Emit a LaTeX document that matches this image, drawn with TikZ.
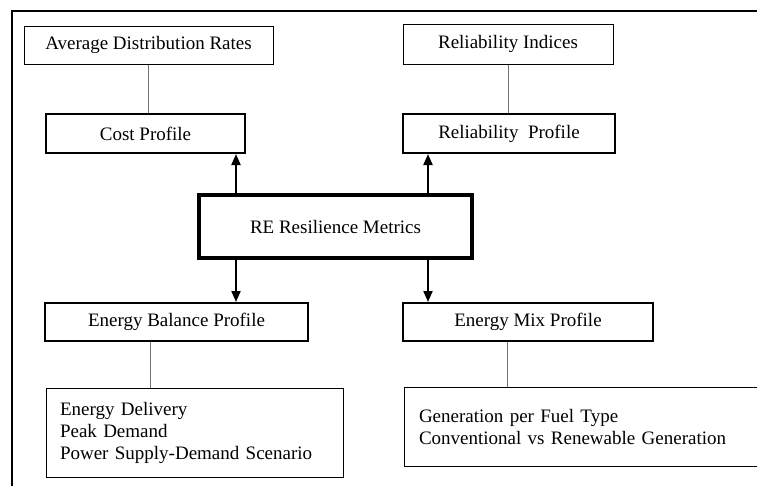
\documentclass[tikz,border=0pt]{standalone}
\usepackage{fontspec}
\setmainfont{Liberation Serif}
\usetikzlibrary{arrows.meta}
\tikzset{
  every node/.style={font=\fontsize{19}{22}\selectfont, inner sep=0pt},
  thinbox/.style={draw=black, line width=1pt, rectangle},
  midbox/.style={draw=black, line width=2pt, rectangle},
  bigbox/.style={draw=black, line width=3.5pt, rectangle},
  link/.style={draw=black!55, line width=1pt},
  uparrow/.style={draw=black, line width=2pt, -{Triangle[width=9pt,length=11pt]}},
  frame/.style={draw=black, line width=2pt}
}
\begin{document}
\begin{tikzpicture}[x=1pt,y=-1pt]
\useasboundingbox (0,0) rectangle (757,485);
\clip (0,0) rectangle (757,485);
\fill[white] (0,0) rectangle (757,485);
% frame
\coordinate (fb) at (12,490);
\coordinate (ftl) at (12,11);
\coordinate (ftr) at (765,11);
\draw[frame] (fb) -- (ftl) -- (ftr);
% boxes
\node[thinbox, minimum width=249, minimum height=38] (adr) at (148.5,45) {Average Distribution Rates};
\node[midbox, minimum width=199, minimum height=39] (cost) at (145.5,133.5) {Cost Profile};
\node[thinbox, minimum width=210, minimum height=40] (ri) at (508,44) {Reliability Indices};
\node[midbox, minimum width=212, minimum height=39] (rp) at (509,133.5) {Reliability\ \ Profile};
\node[bigbox, minimum width=273, minimum height=63] (re) at (335.5,226.5) {RE Resilience Metrics};
\node[midbox, minimum width=263, minimum height=38] (eb) at (176.5,322) {Energy Balance Profile};
\node[midbox, minimum width=250, minimum height=38] (em) at (528,322) {Energy Mix Profile};
\node[thinbox, minimum height=89, text width=269, inner xsep=14pt, align=left] (ll) at (194.5,432.5) {Energy Delivery\\Peak Demand\\Power Supply-Demand Scenario};
\node[thinbox, minimum height=79, text width=346, inner xsep=15pt, align=left] (lr) at (592,426.5) {Generation per Fuel Type\\Conventional vs Renewable Generation};
% links
\draw[link] (adr.south) -- (adr.south |- cost.north);
\draw[link] (ri.south) -- (ri.south |- rp.north);
\draw[link] (150,0 |- eb.south) -- (150,0 |- ll.north);
\draw[link] (507,0 |- em.south) -- (507,0 |- lr.north);
% arrows
\coordinate (ax1) at (236,0);
\coordinate (ax2) at (428,0);
\draw[uparrow] (ax1 |- re.north) -- (ax1 |- cost.south);
\draw[uparrow] (ax2 |- re.north) -- (ax2 |- rp.south);
\draw[uparrow] (ax1 |- re.south) -- (ax1 |- eb.north);
\draw[uparrow] (ax2 |- re.south) -- (ax2 |- em.north);
\end{tikzpicture}
\end{document}
